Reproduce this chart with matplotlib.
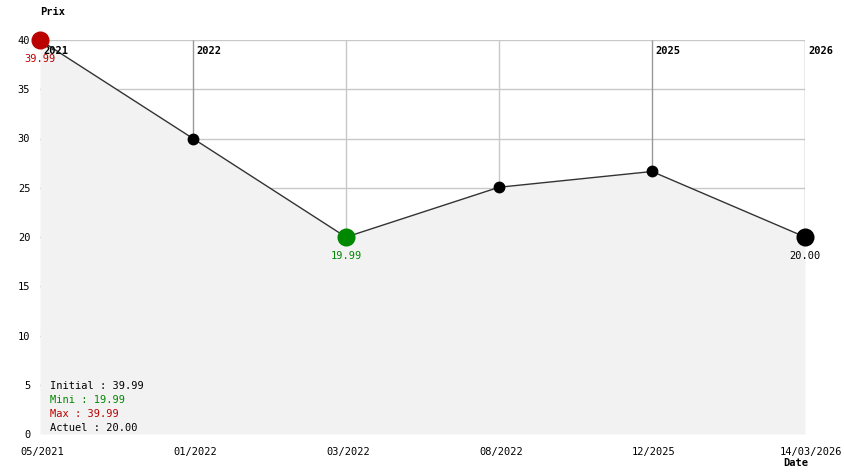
import matplotlib
matplotlib.use("Agg")
import matplotlib.pyplot as plt

# Data
dates = ["05/2021", "01/2022", "03/2022", "08/2022", "12/2025", "14/03/2026"]
prix = [39.99, 30.0, 19.99, 25.05, 26.65, 20.00]
annees = ["2021", "2022", "", "", "2025", "2026"]
yticks = [0, 5, 10, 15, 20, 25, 30, 35, 40]

ROUGE = "#bb0000"
VERT = "#008800"
FONT = "DejaVu Sans Mono"

plt.rcParams["font.family"] = FONT

W, H = 844, 474
fig = plt.figure(figsize=(W / 100, H / 100), dpi=100)
ax = fig.add_axes([40 / W, (H - 434) / H, (805 - 40) / W, (434 - 40) / H])

x = list(range(len(prix)))
ax.set_xlim(0, len(prix) - 1)
ax.set_ylim(0, 40)

# Grille (s'arrête à la courbe)
for v in yticks[1:]:
    ax.axhline(v, color="#c8c8c8", lw=1, zorder=0.5)
for i, a, p in zip(x, annees, prix):
    ax.vlines(i, p, 40, color="#999999" if a else "#c8c8c8", lw=1, zorder=0.6)

# Zone sous la courbe
ax.fill_between(x, prix, 0, color="#f2f2f2", lw=0, zorder=1)
ax.plot(x, prix, color="#333333", lw=1, zorder=2)

# Années en haut
for i, a in zip(x, annees):
    if a:
        ax.text(i + 0.02, 38.9, a, fontsize=7.5, fontweight="bold",
                ha="left", va="center", zorder=3)

# Points
imin = prix.index(min(prix))
imax = prix.index(max(prix))
last = len(prix) - 1
for i, p in zip(x, prix):
    if i == imax:
        c, ms = ROUGE, 12
    elif i == imin:
        c, ms = VERT, 12
    elif i == last:
        c, ms = "black", 12
    else:
        c, ms = "black", 7.5
    ax.plot(i, p, "o", color=c, ms=ms, mec=c, zorder=4, clip_on=False)
    if i in (imax, imin, last):
        ax.text(i, p - 1.95, f"{p:.2f}", color=c, fontsize=7.5,
                ha="center", va="center", zorder=5)

# Axes
for s in ax.spines.values():
    s.set_visible(False)
ax.set_yticks(yticks)
ax.set_yticklabels([str(v) for v in yticks], fontsize=7.5)
ax.tick_params(axis="y", length=0, pad=7)
ax.set_xticks([])

# Dates sous l'axe
for i, d in zip(x, dates):
    if i == last:
        ax.annotate(d, (i, 0), xytext=(-18, -13), textcoords="offset points",
                    fontsize=7.5, ha="left", va="center", annotation_clip=False)
    else:
        ax.annotate(d, (i, 0), xytext=(1.5, -13), textcoords="offset points",
                    fontsize=7.5, ha="center", va="center", annotation_clip=False)

fig.text(40 / W, 1 - 12 / H, "Prix", fontsize=7.5, fontweight="bold",
         ha="left", va="center")
fig.text(783 / W, 1 - 463 / H, "Date", fontsize=7.5, fontweight="bold",
         ha="left", va="center")

# Résumé
lignes = [
    (f"Initial : {prix[0]:.2f}", "black"),
    (f"Mini : {min(prix):.2f}", VERT),
    (f"Max : {max(prix):.2f}", ROUGE),
    (f"Actuel : {prix[-1]:.2f}", "black"),
]
for k, (t, c) in enumerate(lignes):
    fig.text(50 / W, 1 - (386 + 14 * k) / H, t, color=c, fontsize=7.5,
             ha="left", va="center")

fig.savefig("out.png", dpi=100)
